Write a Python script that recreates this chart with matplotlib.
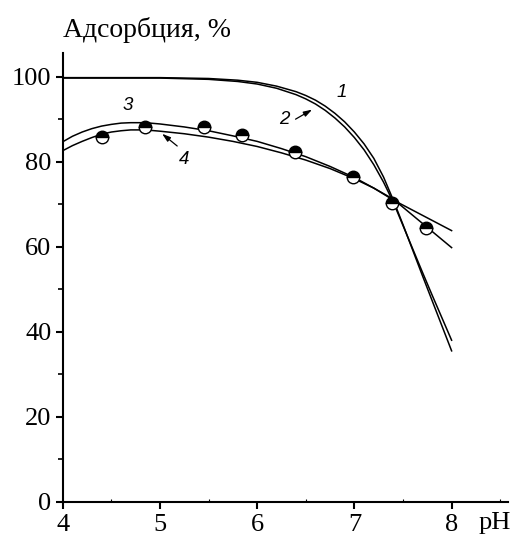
import matplotlib
matplotlib.use("Agg")
import matplotlib.pyplot as plt
from matplotlib.ticker import MultipleLocator

# ---- data ----
ph_12 = [4.0, 5.0, 5.5, 5.8, 6.0, 6.2, 6.4, 6.5, 6.6, 6.7, 6.8, 6.9, 7.0, 7.1,
         7.2, 7.3, 7.4, 7.5, 7.6, 7.7, 7.8, 7.9, 8.0]
curve1 = [99.8, 99.8, 99.6, 99.2, 98.7, 97.8, 96.5, 95.6, 94.5, 93.1, 91.4, 89.4,
          87.0, 84.2, 80.8, 76.4, 71.0, 65.2, 59.2, 53.2, 47.3, 41.4, 35.5]
curve2 = [99.7, 99.7, 99.4, 98.9, 98.3, 97.3, 95.8, 94.8, 93.6, 92.1, 90.3, 88.2,
          85.7, 82.8, 79.3, 75.2, 70.5, 65.0, 59.5, 54.0, 48.6, 43.3, 38.0]

ph_34 = [4.0, 4.1, 4.2, 4.3, 4.4, 4.5, 4.6, 4.7, 4.8, 4.9, 5.0, 5.25, 5.5, 5.75,
         6.0, 6.25, 6.5, 6.75, 7.0, 7.2, 7.4, 7.6, 7.8, 8.0]
curve3 = [84.7, 86.0, 87.0, 87.8, 88.4, 88.8, 89.1, 89.2, 89.2, 89.1, 88.9, 88.2,
          87.3, 86.1, 84.8, 83.1, 81.2, 78.9, 76.3, 73.8, 71.0, 68.6, 66.2, 63.8]
curve4 = [82.6, 83.8, 84.8, 85.7, 86.5, 87.0, 87.3, 87.5, 87.5, 87.4, 87.2, 86.6,
          85.8, 84.8, 83.6, 82.1, 80.4, 78.4, 76.0, 73.8, 71.2, 67.4, 63.6, 59.8]

ph_exp = [4.40, 4.85, 5.45, 5.84, 6.39, 6.99, 7.39, 7.74]
ads_exp = [85.9, 88.1, 88.2, 86.3, 82.4, 76.5, 70.4, 64.3]

x_ticks = [4, 5, 6, 7, 8]
y_ticks = [0, 20, 40, 60, 80, 100]

serif = "Liberation Serif"
sans = "Liberation Sans"

fig = plt.figure(figsize=(5.15, 5.39), dpi=100)
ax = fig.add_axes([62.7 / 515, 1 - 501.7 / 539, (508 - 62.7) / 515, (501.7 - 53) / 539])

lw = 1.1
ax.plot(ph_12, curve1, color="black", lw=lw)
ax.plot(ph_12, curve2, color="black", lw=lw)
ax.plot(ph_34, curve3, color="black", lw=lw)
ax.plot(ph_34, curve4, color="black", lw=lw)
ax.plot(ph_exp, ads_exp, linestyle="none", marker="o", markersize=9,
        fillstyle="top", markerfacecolor="black", markerfacecoloralt="white",
        markeredgecolor="black", markeredgewidth=1.0, zorder=5)

ax.set_xlim(4, 8.58)
ax.set_ylim(0, 105.6)
for s in ("top", "right"):
    ax.spines[s].set_visible(False)
for s in ("left", "bottom"):
    ax.spines[s].set_linewidth(1.5)

ax.set_xticks(x_ticks)
ax.set_yticks(y_ticks)
ax.yaxis.set_minor_locator(MultipleLocator(10))
ax.xaxis.set_minor_locator(MultipleLocator(0.5))
ax.tick_params(axis="both", which="major", direction="out", length=5, width=1.5,
               labelsize=19)
ax.tick_params(axis="x", which="major", pad=4)
ax.tick_params(axis="y", which="major", pad=3)
ax.tick_params(axis="y", which="minor", direction="out", length=3.5, width=1.2)
ax.tick_params(axis="x", which="minor", direction="in", length=2, width=0.8)
for lab in ax.get_xticklabels() + ax.get_yticklabels():
    lab.set_fontfamily(serif)

# curve labels
lab_kw = dict(fontsize=13.5, fontstyle="italic", family=sans, ha="center", va="center")
ax.text(6.87, 96.3, "1", **lab_kw)
ax.text(6.28, 90.0, "2", **lab_kw)
ax.text(4.67, 93.3, "3", **lab_kw)
ax.text(5.25, 80.6, "4", **lab_kw)
ax.annotate("", xy=(6.59, 92.6), xytext=(6.37, 89.7),
            arrowprops=dict(arrowstyle="-|>,head_length=0.5,head_width=0.16", color="black", lw=0.9))
ax.annotate("", xy=(5.0, 87.0), xytext=(5.2, 83.3),
            arrowprops=dict(arrowstyle="-|>,head_length=0.5,head_width=0.16", color="black", lw=0.9))

# axis titles
fig.text(63 / 515, 1 - 37 / 539, "Адсорбция, %", family=serif, fontsize=20,
         ha="left", va="baseline")
ax.annotate("pH", xy=(8.44, 0), xycoords=("data", "axes fraction"),
            xytext=(0, -7.5), textcoords="offset points",
            family=serif, fontsize=19, ha="center", va="top")

fig.savefig("out.png", dpi=100)
